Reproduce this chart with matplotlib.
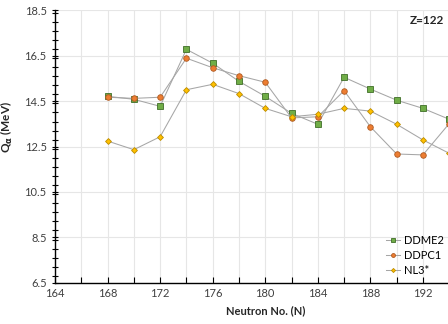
import matplotlib
matplotlib.use("Agg")
import matplotlib.pyplot as plt
from matplotlib.ticker import MultipleLocator

plt.rcParams['font.family'] = ['Lato', 'DejaVu Sans']

# Neutron numbers and Q-alpha values (MeV) for Z=122
neutrons = [168, 170, 172, 174, 176, 178, 180, 182, 184, 186, 188, 190, 192, 194]
ddme2 = [14.71, 14.58, 14.27, 16.78, 16.17, 15.37, 14.71, 13.96, 13.48, 15.55,
         15.03, 14.54, 14.18, 13.70]
ddpc1 = [14.67, 14.62, 14.67, 16.39, 15.97, 15.62, 15.33, 13.76, 13.81, 14.96,
         13.37, 12.17, 12.13, 13.51]
nl3s = [12.74, 12.36, 12.93, 15.00, 15.24, 14.83, 14.18, 13.81, 13.92, 14.18,
        14.06, 13.48, 12.79, 12.20]
xticks = [164, 168, 172, 176, 180, 184, 188, 192]
yticks = [6.5, 8.5, 10.5, 12.5, 14.5, 16.5, 18.5]

fig = plt.figure(figsize=(4.48, 3.24), dpi=100)
ax = fig.add_axes([55 / 448, 41.3 / 324, 420.5 / 448, 272.4 / 324])

line_kw = dict(color='#a6a6a6', linewidth=0.75, markeredgewidth=0.6)
ax.plot(neutrons, ddme2, marker='s', markersize=4, markerfacecolor='#70ad47',
        markeredgecolor='#3f6e27', label='DDME2', **line_kw)
ax.plot(neutrons, ddpc1, marker='o', markersize=4, markerfacecolor='#ed7d31',
        markeredgecolor='#ae5a21', label='DDPC1', **line_kw)
ax.plot(neutrons, nl3s, marker='D', markersize=3, markerfacecolor='#ffc000',
        markeredgecolor='#bc8c00', label='NL3*', **line_kw)

ax.set_xlim(164, 196)
ax.set_ylim(6.5, 18.5)
ax.set_xticks(xticks)
ax.xaxis.set_minor_locator(MultipleLocator(2))
ax.set_yticks(yticks)
ax.yaxis.set_minor_locator(MultipleLocator(0.4))

ax.grid(True, which='major', axis='y', color='#e6e6e6', linewidth=0.8)
ax.grid(True, which='both', axis='x', color='#e6e6e6', linewidth=0.8)
ax.set_axisbelow(True)

for side in ['top', 'right']:
    ax.spines[side].set_visible(False)
for side in ['left', 'bottom']:
    ax.spines[side].set_linewidth(1.0)

ax.tick_params(axis='y', which='both', direction='inout', labelsize=8,
               labelcolor='#404040', color='black', length=5, width=0.8)
ax.tick_params(axis='x', which='both', direction='in', labelsize=8,
               labelcolor='#404040', color='black', length=4, width=0.8, pad=4)

ax.set_xlabel('Neutron No. (N)', fontsize=8, fontweight='bold', color='#262626')
ax.set_ylabel(r'Q$_\mathbf{\alpha}$ (MeV)', fontsize=8.5, fontweight='bold',
              color='#262626')
ax.yaxis.set_label_coords(-0.095, 0.57)

fig.text(410 / 448, 1 - 21 / 324, 'Z=122', fontsize=8.5, fontweight='bold',
         color='#262626', va='center', ha='left')

ax.legend(loc='upper left', bbox_to_anchor=(386 / 448, 1 - 235 / 324),
          bbox_transform=fig.transFigure, frameon=False, markerscale=0.7,
          fontsize=8, handlelength=1.3, handletextpad=0.3, labelspacing=0.35,
          borderaxespad=0, borderpad=0)

fig.savefig('out.png', dpi=100)
